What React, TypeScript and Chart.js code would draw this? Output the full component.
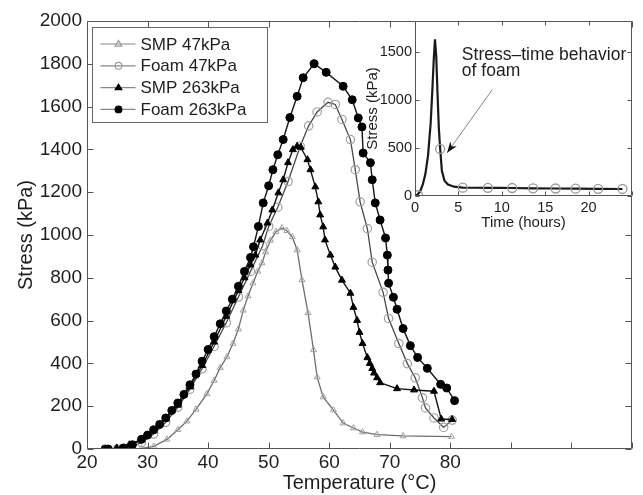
import React, { useEffect, useRef } from 'react';
import { Chart, registerables } from 'chart.js';

Chart.register(...registerables);

const FONT = '"Liberation Sans", Arial, Helvetica, sans-serif';
const TEXT = '#1e1e1e';
const FRAME = '#555555';

// ---------- main chart data: Temperature (°C) vs Stress (kPa) ----------
const smp47Temp = [27, 29, 31, 33.2, 35, 36.5, 38, 39.8, 41, 42, 43.1, 44.1, 45, 45.8, 46.6, 47.4, 48.2, 48.9, 49.5, 50.3, 51.2, 52.2, 53, 53.9, 54.7, 55.5, 56.5, 57.4, 58, 59, 60.7, 62.3, 64, 65.5, 67.9, 72.2, 80.2];
const smp47Stress = [0, 3, 12, 45, 90, 130, 185, 258, 320, 380, 430, 493, 560, 648, 715, 775, 830, 869, 920, 975, 1015, 1033, 1020, 991, 930, 790, 636, 463, 336, 243, 182, 121, 98, 79, 67, 61, 58];

const foam47Temp = [25, 27, 29, 31, 33, 35, 37, 39, 41, 43, 45, 47, 49, 50, 51.5, 53.2, 55.2, 56.6, 58, 59.8, 61, 62.1, 63.5, 64.3, 65.1, 66.3, 67.1, 68.9, 69.8, 71.5, 72.9, 74.2, 75.4, 75.9, 77.3, 78.9, 80.3];
const foam47Stress = [0, 8, 30, 70, 125, 195, 280, 375, 480, 590, 710, 830, 950, 1040, 1130, 1250, 1415, 1510, 1575, 1620, 1610, 1540, 1446, 1305, 1155, 1030, 873, 732, 610, 493, 399, 333, 239, 192, 145, 101, 135];

const smp263Temp = [24.9, 27, 29, 31, 33, 35, 37, 39, 41, 43, 45, 46, 47, 47.8, 48.6, 49.8, 50.6, 51.6, 52.4, 53.2, 54, 54.7, 55.3, 56.4, 56.9, 57.7, 58.2, 58.5, 59, 59.3, 60.2, 61, 62.1, 63.5, 64, 64.6, 65, 65.5, 66.3, 66.7, 67.1, 67.4, 67.9, 68.4, 71.2, 74, 77.3, 78.5, 80.3];
const smp263Stress = [5, 20, 45, 85, 140, 205, 290, 390, 500, 620, 740, 800, 860, 906, 977, 1056, 1117, 1197, 1258, 1338, 1399, 1415, 1410, 1352, 1305, 1225, 1155, 1094, 1038, 977, 906, 850, 789, 728, 662, 601, 545, 493, 427, 400, 376, 355, 333, 310, 282, 276, 270, 140, 138];

const foam263Temp = [23, 23.5, 26, 27.5, 29, 30, 31, 32, 33, 34, 35, 36, 37, 38, 39, 40, 41, 42, 43, 44, 45, 46, 47, 47.5, 48.3, 49.1, 50, 50.7, 51.5, 52.4, 53.5, 54.7, 55.7, 57.5, 59.5, 62.3, 63.8, 64.8, 65.4, 65.6, 66.8, 67.1, 67.6, 68.4, 69.3, 69.6, 69.7, 69.8, 70.6, 71.2, 72.2, 73.4, 74.6, 76.2, 78.4, 79.4, 80.7];
const foam263Stress = [0, 0, 5, 20, 45, 65, 90, 115, 145, 180, 215, 255, 300, 350, 410, 465, 525, 585, 645, 700, 760, 830, 895, 945, 1040, 1150, 1230, 1305, 1375, 1446, 1549, 1648, 1735, 1800, 1760, 1695, 1632, 1547, 1505, 1383, 1338, 1258, 1150, 1070, 986, 906, 836, 775, 709, 653, 563, 483, 428, 377, 302, 285, 226];

const seriesNames = ['SMP 47kPa', 'Foam 47kPa', 'SMP 263kPa', 'Foam 263kPa'];

// axis ticks
const mainXTickValues = [20, 30, 40, 50, 60, 70, 80, 90, 100, 110];
const mainXLabelMax = 80;
const mainYTickValues = [0, 200, 400, 600, 800, 1000, 1200, 1400, 1600, 1800, 2000];
const insetXTickValues = [0, 5, 10, 15, 20, 25];
const insetXLabelMax = 20;
const insetYTickValues = [0, 500, 1000, 1500];

// ---------- inset data: Time (hours) vs Stress (kPa) ----------
const insetTime = [0, 0.3, 0.6, 0.9, 1.2, 1.5, 1.8, 2.0, 2.15, 2.3, 2.45, 2.6, 2.75, 2.9, 3.1, 3.4, 3.8, 4.5, 5.5, 7, 8.4, 10, 11.2, 13.6, 16.2, 18.5, 21.1, 23.9];
const insetStress = [0, 15, 50, 120, 230, 420, 750, 1100, 1400, 1630, 1450, 1050, 700, 490, 260, 160, 120, 97, 87, 86, 85, 84, 83, 80, 78, 76, 75, 73];
const insetMarkTime = [0.35, 2.9, 5.5, 8.4, 11.2, 13.6, 16.2, 18.5, 21.1, 23.9];
const insetMarkStress = [8, 490, 87, 85, 83, 80, 78, 76, 75, 73];

const annotationLines = ['Stress\u2013time behavior', 'of foam'];

const zip = (xs: number[], ys: number[]) => xs.map((x, i) => ({ x, y: ys[i] }));

function framePlugin(tickLen: number) {
  return {
    id: 'frame',
    afterDatasetsDraw(chart: any) {
      const { ctx, chartArea: a, scales } = chart;
      const L = Math.round(a.left) + 0.5;
      const R = Math.round(a.right) - 0.5;
      const T = Math.round(a.top) + 0.5;
      const B = Math.round(a.bottom) - 0.5;
      ctx.save();
      ctx.strokeStyle = FRAME;
      ctx.lineWidth = 1;
      ctx.beginPath();
      ctx.rect(L, T, R - L, B - T);
      for (const t of scales.x.ticks) {
        const px = Math.round(scales.x.getPixelForValue(t.value)) + 0.5;
        ctx.moveTo(px, B); ctx.lineTo(px, B - tickLen);
        ctx.moveTo(px, T); ctx.lineTo(px, T + tickLen);
      }
      for (const t of scales.y.ticks) {
        const py = Math.round(scales.y.getPixelForValue(t.value)) + 0.5;
        ctx.moveTo(L, py); ctx.lineTo(L + tickLen, py);
        ctx.moveTo(R, py); ctx.lineTo(R - tickLen, py);
      }
      ctx.stroke();
      ctx.restore();
    },
  };
}

function drawTri(ctx: CanvasRenderingContext2D, x: number, y: number, r: number) {
  ctx.beginPath();
  ctx.moveTo(x, y - r);
  ctx.lineTo(x + r * 0.95, y + r * 0.6);
  ctx.lineTo(x - r * 0.95, y + r * 0.6);
  ctx.closePath();
}

const legendPlugin = {
  id: 'boxLegend',
  afterDraw(chart: any) {
    const { ctx, chartArea: a } = chart;
    const bx = Math.round(a.left) + 5.5;
    const by = Math.round(a.top) + 6.5;
    const bw = 175;
    const bh = 95;
    ctx.save();
    ctx.fillStyle = '#ffffff';
    ctx.fillRect(bx, by, bw, bh);
    ctx.strokeStyle = '#666';
    ctx.lineWidth = 1;
    ctx.strokeRect(bx, by, bw, bh);
    const styles = [
      { fill: 'rgba(0,0,0,0)', stroke: '#999', shape: 'tri' },
      { fill: 'rgba(0,0,0,0)', stroke: '#999', shape: 'circ' },
      { fill: '#000', stroke: '#000', shape: 'tri' },
      { fill: '#000', stroke: '#000', shape: 'circ' },
    ];
    ctx.font = `17px ${FONT}`;
    ctx.textBaseline = 'middle';
    ctx.textAlign = 'left';
    seriesNames.forEach((name, i) => {
      const y = by + 16.5 + i * 21.8;
      ctx.strokeStyle = '#888';
      ctx.lineWidth = 1.2;
      ctx.beginPath();
      ctx.moveTo(bx + 8, y);
      ctx.lineTo(bx + 43, y);
      ctx.stroke();
      const s = styles[i];
      const mx = bx + 26;
      if (s.shape === 'tri') drawTri(ctx, mx, y, 3.6);
      else { ctx.beginPath(); ctx.arc(mx, y, 3.4, 0, Math.PI * 2); }
      ctx.fillStyle = s.fill;
      ctx.fill();
      ctx.strokeStyle = s.stroke;
      ctx.lineWidth = 1.1;
      ctx.stroke();
      ctx.fillStyle = TEXT;
      ctx.fillText(name, bx + 48, y + 1);
    });
    ctx.restore();
  },
};

const insetBgPlugin = {
  id: 'insetBg',
  beforeDatasetsDraw(chart: any) {
    const { ctx, chartArea: a } = chart;
    ctx.save();
    ctx.fillStyle = '#ffffff';
    ctx.fillRect(a.left, a.top, a.width, a.height);
    ctx.restore();
  },
};

// annotation anchor points (data coords of the inset)
const annotTextAt = { x: 5.4, y1: 1410, y2: 1245 };
const arrowFrom = { x: 8.9, y: 1106 };
const arrowTo = { x: 3.7, y: 449 };

const insetAnnotPlugin = {
  id: 'insetAnnot',
  afterDraw(chart: any) {
    const { ctx, scales } = chart;
    const sx = scales.x, sy = scales.y;
    ctx.save();
    ctx.fillStyle = TEXT;
    ctx.font = `17.5px ${FONT}`;
    ctx.textAlign = 'left';
    ctx.textBaseline = 'alphabetic';
    ctx.fillText(annotationLines[0], sx.getPixelForValue(annotTextAt.x), sy.getPixelForValue(annotTextAt.y1));
    ctx.fillText(annotationLines[1], sx.getPixelForValue(annotTextAt.x), sy.getPixelForValue(annotTextAt.y2));
    const x1 = sx.getPixelForValue(arrowFrom.x), y1 = sy.getPixelForValue(arrowFrom.y);
    const x2 = sx.getPixelForValue(arrowTo.x), y2 = sy.getPixelForValue(arrowTo.y);
    ctx.strokeStyle = '#888';
    ctx.lineWidth = 1;
    ctx.beginPath();
    ctx.moveTo(x1, y1);
    ctx.lineTo(x2, y2);
    ctx.stroke();
    const ang = Math.atan2(y2 - y1, x2 - x1);
    const len = 11, hw = 4;
    ctx.fillStyle = '#111';
    ctx.beginPath();
    ctx.moveTo(x2, y2);
    ctx.lineTo(x2 - len * Math.cos(ang) + hw * Math.sin(ang), y2 - len * Math.sin(ang) - hw * Math.cos(ang));
    ctx.lineTo(x2 - len * Math.cos(ang) * 0.7, y2 - len * Math.sin(ang) * 0.7);
    ctx.lineTo(x2 - len * Math.cos(ang) - hw * Math.sin(ang), y2 - len * Math.sin(ang) + hw * Math.cos(ang));
    ctx.closePath();
    ctx.fill();
    ctx.restore();
  },
};

const setTicks = (vals: number[]) => (s: any) => { s.ticks = vals.map((v) => ({ value: v })); };
const labelUpTo = (max: number) => (v: any) => (Number(v) <= max ? String(v) : '');

export default function App() {
  const mainRef = useRef<HTMLCanvasElement>(null);
  const insetRef = useRef<HTMLCanvasElement>(null);

  useEffect(() => {
    Chart.defaults.font.family = FONT;
    Chart.defaults.color = TEXT;

    const main = new Chart(mainRef.current as HTMLCanvasElement, {
      type: 'line',
      data: {
        datasets: [
          {
            label: seriesNames[0], data: zip(smp47Temp, smp47Stress), order: 4,
            borderColor: '#6e6e6e', borderWidth: 1.3, pointStyle: 'triangle', pointRadius: 3.5,
            pointBackgroundColor: 'rgba(0,0,0,0)', pointBorderColor: '#a0a0a0', pointBorderWidth: 1,
          },
          {
            label: seriesNames[1], data: zip(foam47Temp, foam47Stress), order: 3,
            borderColor: '#484848', borderWidth: 1.3, pointStyle: 'circle', pointRadius: 4.2,
            pointBackgroundColor: 'rgba(0,0,0,0)', pointBorderColor: '#a0a0a0', pointBorderWidth: 1.2,
          },
          {
            label: seriesNames[2], data: zip(smp263Temp, smp263Stress), order: 2,
            borderColor: '#151515', borderWidth: 1.4, pointStyle: 'triangle', pointRadius: 4,
            pointBackgroundColor: '#000', pointBorderColor: '#000', pointBorderWidth: 1,
          },
          {
            label: seriesNames[3], data: zip(foam263Temp, foam263Stress), order: 1,
            borderColor: '#151515', borderWidth: 1.4, pointStyle: 'circle', pointRadius: 4,
            pointBackgroundColor: '#000', pointBorderColor: '#000', pointBorderWidth: 1,
          },
        ],
      },
      options: {
        responsive: false,
        animation: false,
        devicePixelRatio: 1,
        layout: { padding: { left: 11, top: 21, right: 11, bottom: 0 } },
        plugins: { legend: { display: false }, tooltip: { enabled: false } },
        scales: {
          x: {
            type: 'linear', min: 20, max: 110,
            afterBuildTicks: setTicks(mainXTickValues),
            afterFit: (s: any) => { s.height = 46; },
            ticks: {
              autoSkip: false, maxRotation: 0, padding: 2,
              font: { size: 19 }, color: TEXT,
              callback: labelUpTo(mainXLabelMax),
            },
            grid: { display: false, drawTicks: false },
            border: { display: false },
            title: { display: true, text: 'Temperature (\u00B0C)', font: { size: 20 }, color: TEXT, padding: { top: 0, bottom: 0 } },
          },
          y: {
            type: 'linear', min: 0, max: 2000,
            afterBuildTicks: setTicks(mainYTickValues),
            afterFit: (s: any) => { s.width = 76; },
            ticks: { autoSkip: false, padding: 5, font: { size: 19 }, color: TEXT, callback: (v: any) => String(v) },
            grid: { display: false, drawTicks: false },
            border: { display: false },
            title: { display: true, text: 'Stress (kPa)', font: { size: 20 }, color: TEXT, padding: { top: 3, bottom: 0 } },
          },
        },
      },
      plugins: [framePlugin(6), legendPlugin],
    } as any);

    const inset = new Chart(insetRef.current as HTMLCanvasElement, {
      type: 'line',
      data: {
        datasets: [
          {
            label: 'curve', data: zip(insetTime, insetStress),
            borderColor: '#1a1a1a', borderWidth: 2.2, pointRadius: 0, order: 2,
          },
          {
            label: 'marks', data: zip(insetMarkTime, insetMarkStress), showLine: false,
            pointStyle: 'circle', pointRadius: 4.5, pointBorderColor: '#999',
            pointBackgroundColor: 'rgba(0,0,0,0)', pointBorderWidth: 1.3, order: 1,
          },
        ],
      },
      options: {
        responsive: false,
        animation: false,
        devicePixelRatio: 1,
        layout: { padding: { left: 360, top: 21, right: 11, bottom: 259 } },
        plugins: { legend: { display: false }, tooltip: { enabled: false } },
        scales: {
          x: {
            type: 'linear', min: 0, max: 25,
            afterBuildTicks: setTicks(insetXTickValues),
            afterFit: (s: any) => { s.height = 40; },
            ticks: { autoSkip: false, padding: 3, font: { size: 14.5 }, color: TEXT, maxRotation: 0, callback: labelUpTo(insetXLabelMax) },
            grid: { display: false, drawTicks: false },
            border: { display: false },
            title: { display: true, text: 'Time (hours)', font: { size: 15 }, color: TEXT, padding: { top: 0, bottom: 4 } },
          },
          y: {
            type: 'linear', min: 0, max: 1820,
            afterBuildTicks: setTicks(insetYTickValues),
            afterFit: (s: any) => { s.width = 55; },
            ticks: { autoSkip: false, padding: 3, font: { size: 14.5 }, color: TEXT, callback: (v: any) => String(v) },
            grid: { display: false, drawTicks: false },
            border: { display: false },
            title: { display: true, text: 'Stress (kPa)', font: { size: 15 }, color: TEXT, padding: { top: 4, bottom: 0 } },
          },
        },
      },
      plugins: [insetBgPlugin, framePlugin(4), insetAnnotPlugin],
    } as any);

    return () => {
      main.destroy();
      inset.destroy();
    };
  }, []);

  return (
    <div style={{ position: 'fixed', left: 0, top: 0, width: 643, height: 495, background: '#ffffff' }}>
      <canvas ref={mainRef} width={643} height={495} style={{ position: 'absolute', left: 0, top: 0 }} />
      <canvas ref={insetRef} width={643} height={495} style={{ position: 'absolute', left: 0, top: 0 }} />
    </div>
  );
}
